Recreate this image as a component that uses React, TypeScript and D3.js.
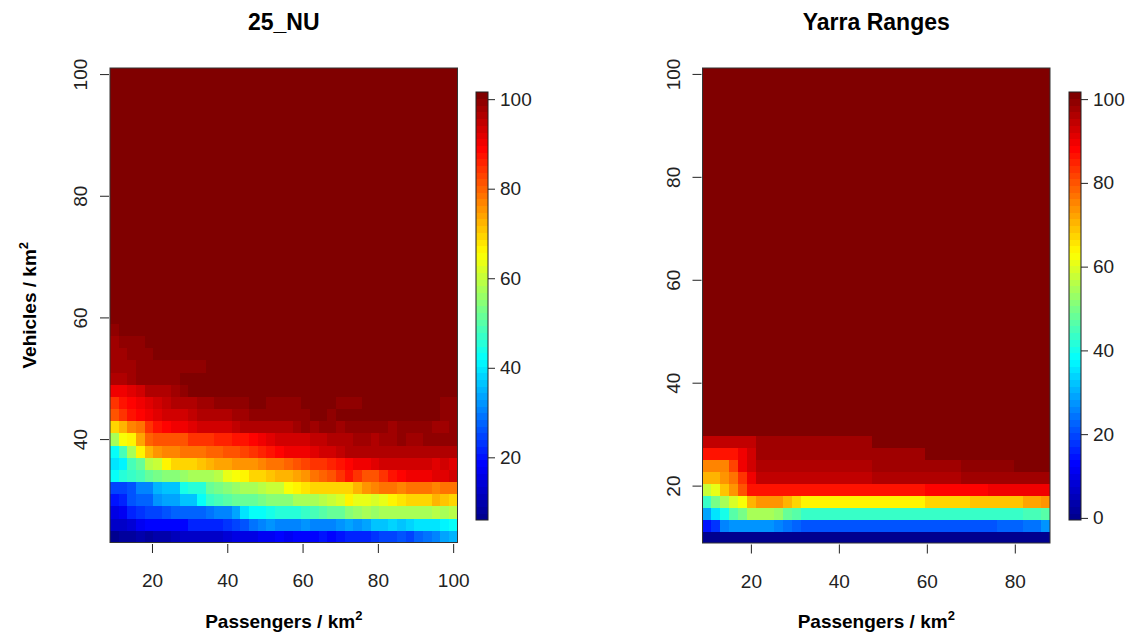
import { useEffect, useRef } from 'react';
import * as d3 from 'd3';

// saturated cells (the dark red upper area of both maps)
const T = 101;

// ---------- 25_NU ----------
const nuPassengers = [10, 12.3, 14.6, 16.9, 19.2, 21.5, 23.8, 26.2, 28.5, 30.8, 33.1, 35.4, 37.7, 40, 42.3, 44.6, 46.9, 49.2, 51.5, 53.8,
  56.2, 58.5, 60.8, 63.1, 65.4, 67.7, 70, 72.3, 74.6, 76.9, 79.2, 81.5, 83.8, 86.2, 88.5, 90.8, 93.1, 95.4, 97.7, 100];
const nuVehicles = [24, 26, 28, 30, 32, 34, 36, 38, 40, 42, 44, 46, 48, 50, 52, 54, 56, 58, 60, 62, 64, 66, 68, 70, 72, 74, 76,
  78, 80, 82, 84, 86, 88, 90, 92, 94, 96, 98, 100];
// rows from the lowest vehicle density upwards; every row above these is T
const nuRows = [
  [7, 8, 8, 9, 8, 9, 10, 11, 12, 12, 13, 12, 13, 14, 15, 16, 15, 17, 17, 18, 17, 19, 18, 19, 20, 19, 20, 21, 22, 21, 23, 24, 25, 26, 25, 27, 29, 31, 33, 35],
  [12, 13, 14, 17, 18, 18, 19, 18, 19, 21, 21, 22, 21, 23, 24, 26, 29, 31, 32, 31, 30, 31, 32, 31, 30, 31, 32, 33, 32, 34, 36, 37, 38, 37, 38, 39, 40, 40, 41, 42],
  [16, 17, 22, 23, 24, 24, 26, 27, 27, 28, 28, 29, 30, 31, 34, 40, 42, 43, 44, 45, 45, 46, 47, 48, 50, 51, 52, 55, 56, 57, 56, 57, 57, 58, 58, 57, 58, 59, 58, 59],
  [20, 22, 26, 27, 28, 32, 33, 34, 36, 37, 42, 47, 49, 50, 51, 52, 51, 53, 54, 55, 54, 57, 58, 58, 59, 60, 62, 66, 63, 63, 62, 64, 66, 68, 69, 69, 70, 72, 71, 70],
  [24, 25, 26, 30, 31, 35, 36, 37, 44, 45, 46, 51, 53, 55, 56, 57, 58, 59, 60, 61, 65, 66, 68, 69, 70, 69, 70, 70, 73, 75, 77, 78, 78, 77, 78, 79, 78, 77, 78, 79],
  [42, 46, 47, 48, 52, 53, 54, 55, 56, 57, 58, 58, 59, 64, 65, 66, 69, 70, 71, 72, 72, 74, 76, 78, 80, 82, 85, 87, 84, 81, 81, 84, 87, 89, 90, 90, 91, 92, 92, 93],
  [40, 41, 49, 51, 59, 61, 66, 69, 70, 70, 71, 73, 74, 74, 75, 75, 76, 77, 78, 79, 80, 82, 83, 84, 85, 86, 88, 89, 90, 91, 92, 93, 93, 94, 93, 93, 94, 92, 93, 92],
  [42, 48, 58, 66, 73, 76, 77, 77, 78, 78, 79, 80, 80, 81, 82, 83, 84, 86, 88, 89, 90, 91, 90, 92, 93, 94, 95, 96, 97, 96, 97, 96, 97, 96, 96, 97, 96, 97, 96, 97],
  [57, 65, 67, 74, 80, 81, 81, 82, 82, 84, 85, 85, 86, 86, 87, 88, 89, 90, 92, 93, 93, 94, 94, 95, 95, 96, 96, 97, 98, 98, 97, 98, 98, 99, 98, 98, 99, 100, 99, 100],
  [69, 72, 77, 79, 84, 88, 89, 90, 90, 92, 93, 93, 94, 94, 95, 96, 96, 97, 96, 97, 97, 98, 99, 98, 99, 99, 98, 99, 99, 100, 99, 99, 98, 99, 99, 100, 99, 98, 98, 99],
  [81, 84, 87, 89, 90, 92, 93, 93, 94, 95, 96, 96, 97, 97, 98, 98, 99, 99, 99, 100, 100, 99, 100, T, T, 100, T, T, T, T, T, T, T, T, T, T, T, T, 100, 99],
  [84, 87, 89, 90, 92, 93, 95, 96, 97, 97, 98, 98, 99, 99, 99, 100, T, T, 100, 99, 100, 100, T, T, T, T, 100, 99, 100, T, T, T, T, T, T, T, T, T, 100, 100],
  [90, 90, 92, 93, 96, 97, 97, 98, 100, T, T, T, T, T, T, T, T, T, T, T, T, T, T, T, T, T, T, T, T, T, T, T, T, T, T, T, T, T, T, T],
  [97, 97, 98, 99, 99, 99, 99, 99, T, T, T, T, T, T, T, T, T, T, T, T, T, T, T, T, T, T, T, T, T, T, T, T, T, T, T, T, T, T, T, T],
  [98, 98, 98, 99, 99, 99, 100, 100, 100, 100, 100, T, T, T, T, T, T, T, T, T, T, T, T, T, T, T, T, T, T, T, T, T, T, T, T, T, T, T, T, T],
  [98, 98, 99, 99, 99, T, T, T, T, T, T, T, T, T, T, T, T, T, T, T, T, T, T, T, T, T, T, T, T, T, T, T, T, T, T, T, T, T, T, T],
  [98, 99, 99, 99, T, T, T, T, T, T, T, T, T, T, T, T, T, T, T, T, T, T, T, T, T, T, T, T, T, T, T, T, T, T, T, T, T, T, T, T],
  [100, T, T, T, T, T, T, T, T, T, T, T, T, T, T, T, T, T, T, T, T, T, T, T, T, T, T, T, T, T, T, T, T, T, T, T, T, T, T, T],
];
const nuZRange = [6, 101.6];
const nuXTicks = [20, 40, 60, 80, 100];
const nuYTicks = [40, 60, 80, 100];
const nuBarTicks = [20, 40, 60, 80, 100];

// ---------- Yarra Ranges ----------
const yrPassengers = [10, 12, 14.1, 16.1, 18.1, 20.1, 22.2, 24.2, 26.2, 28.2, 30.3, 32.3, 34.3, 36.3, 38.4, 40.4, 42.4, 44.4, 46.5, 48.5,
  50.5, 52.6, 54.6, 56.6, 58.6, 60.7, 62.7, 64.7, 66.7, 68.8, 70.8, 72.8, 74.8, 76.9, 78.9, 80.9, 82.9, 85, 87];
const yrVehicles = [10, 12.3, 14.6, 16.9, 19.2, 21.5, 23.8, 26.2, 28.5, 30.8, 33.1, 35.4, 37.7, 40, 42.3, 44.6, 46.9, 49.2, 51.5, 53.8,
  56.2, 58.5, 60.8, 63.1, 65.4, 67.7, 70, 72.3, 74.6, 76.9, 79.2, 81.5, 83.8, 86.2, 88.5, 90.8, 93.1, 95.4, 97.7, 100];
const yrRows = [
  [0, 0, 0, 0, 0, 0, 0, 0, 0, 0, 0, 0, 0, 0, 0, 0, 0, 0, 0, 0, 0, 0, 0, 0, 0, 0, 0, 0, 0, 0, 0, 0, 0, 0, 0, 0, 0, 1, 1],
  [15, 18, 26, 27, 27, 28, 27, 27, 26, 25, 22, 21, 21, 21, 21, 21, 21, 21, 21, 21, 21, 21, 21, 21, 21, 21, 21, 21, 21, 21, 21, 21, 21, 22, 22, 22, 24, 24, 27],
  [29, 35, 41, 47, 50, 54, 55, 54, 53, 48, 47, 43, 43, 43, 43, 43, 43, 43, 43, 43, 43, 43, 43, 43, 43, 43, 43, 43, 43, 43, 43, 43, 43, 43, 44, 44, 45, 45, 46],
  [43, 50, 54, 60, 63, 70, 73, 74, 73, 70, 67, 64, 64, 64, 64, 64, 64, 64, 64, 64, 64, 64, 64, 64, 64, 67, 67, 67, 67, 67, 69, 69, 69, 69, 69, 69, 72, 72, 73],
  [57, 61, 69, 73, 80, 87, 87, 87, 87, 87, 87, 87, 86, 86, 86, 86, 86, 86, 86, 86, 86, 86, 86, 86, 86, 88, 88, 88, 88, 88, 88, 88, 89, 89, 89, 89, 89, 89, 89],
  [70, 70, 73, 77, 83, 90, 94, 94, 94, 94, 94, 94, 94, 94, 94, 94, 94, 94, 94, 95.5, 95.5, 95.5, 95.5, 95.5, 95.5, 95.5, 95.5, 95.5, 95.5, 97, 97, 97, 97, 97, 98.5, 98.5, 98.5, 98.5, 98.5],
  [76, 76, 76, 82, 89, 93, 95.5, 95.5, 95.5, 95.5, 95.5, 95.5, 95.5, 95.5, 95.5, 95.5, 95.5, 95.5, 95.5, 97, 97, 97, 97, 97, 97, 98.5, 98.5, 98.5, 98.5, 100, 100, 100, 100, 100, 100, T, T, T, T],
  [86, 86, 86, 86, 89, 93, 97, 97, 97, 97, 97, 97, 97, 97, 97, 97, 97, 97, 97, 97, 98.5, 98.5, 98.5, 98.5, 98.5, T, T, T, T, T, T, T, T, T, T, T, T, T, T],
  [95, 95, 95, 95, 95, 95, 98.5, 98.5, 98.5, 98.5, 98.5, 98.5, 98.5, 98.5, 98.5, 98.5, 98.5, 98.5, 98.5, T, T, T, T, T, T, T, T, T, T, T, T, T, T, T, T, T, T, T, T],
];
const yrZRange = [-0.5, 101.7];
const yrXTicks = [20, 40, 60, 80];
const yrYTicks = [20, 40, 60, 80, 100];
const yrBarTicks = [0, 20, 40, 60, 80, 100];

// fields::tim.colors style palette, 64 levels
const jet = d3.scaleLinear<string>()
  .domain([0, 0.125, 0.375, 0.625, 0.875, 1])
  .range(['#00008f', '#0000ff', '#00ffff', '#ffff00', '#ff0000', '#800000']);
const palette = d3.range(64).map(i => jet(i / 63));

const FONT = "'Liberation Sans', Arial, Helvetica, sans-serif";

// cell boundaries halfway between the grid points
function edges(v: number[]) {
  const out = [v[0] - (v[1] - v[0]) / 2];
  for (let i = 1; i < v.length; i++) out.push((v[i - 1] + v[i]) / 2);
  out.push(v[v.length - 1] + (v[v.length - 1] - v[v.length - 2]) / 2);
  return out;
}

type Box = { left: number; right: number; top: number; bottom: number };

function Panel({ title, xs, ys, rows, zRange, xTicks, yTicks, barTicks, plot, bar, yTitle }: {
  title: string; xs: number[]; ys: number[]; rows: number[][]; zRange: number[];
  xTicks: number[]; yTicks: number[]; barTicks: number[]; plot: Box; bar: Box; yTitle: boolean;
}) {
  const xRef = useRef<SVGGElement>(null);
  const yRef = useRef<SVGGElement>(null);
  const zRef = useRef<SVGGElement>(null);

  const xe = edges(xs);
  const ye = edges(ys);
  const x = d3.scaleLinear().domain([xe[0], xe[xe.length - 1]]).range([plot.left, plot.right]);
  const y = d3.scaleLinear().domain([ye[0], ye[ye.length - 1]]).range([plot.bottom, plot.top]);
  const color = d3.scaleQuantize<string>().domain(zRange as [number, number]).range(palette);
  const z = d3.scaleLinear().domain(zRange).range([bar.bottom, bar.top]);
  const grid = ys.map((_, j) => rows[j] ?? xs.map(() => T));
  const levels = d3.range(65).map(i => zRange[0] + (i * (zRange[1] - zRange[0])) / 64);

  useEffect(() => {
    const gx = select(xRef.current)
      .call(d3.axisBottom(x).tickValues(xTicks).tickSize(9).tickPadding(21).tickFormat(d3.format('d')));
    gx.select('.domain').remove();
    gx.attr('font-size', 19).attr('font-family', FONT);

    const gy = select(yRef.current)
      .call(d3.axisLeft(y).tickValues(yTicks).tickSize(9).tickFormat(d3.format('d')));
    gy.select('.domain').remove();
    gy.attr('font-size', 19).attr('font-family', FONT);
    gy.selectAll('text')
      .attr('x', 0)
      .attr('dy', null)
      .attr('text-anchor', 'middle')
      .attr('transform', 'translate(-22,0) rotate(-90)');

    const gz = select(zRef.current)
      .call(d3.axisRight(z).tickValues(barTicks).tickSize(7).tickPadding(5).tickFormat(d3.format('d')));
    gz.select('.domain').remove();
    gz.attr('font-size', 19).attr('font-family', FONT);
  });

  const cx = (plot.left + plot.right) / 2;
  const cy = (plot.top + plot.bottom) / 2;

  return (
    <g>
      <text x={cx} y={30} textAnchor="middle" fontFamily={FONT} fontWeight="bold" fontSize={23}>{title}</text>
      <g shapeRendering="crispEdges">
        {grid.map((row, j) => row.map((v, i) => (
          <rect
            key={`${i}-${j}`}
            x={x(xe[i])}
            y={y(ye[j + 1])}
            width={x(xe[i + 1]) - x(xe[i]) + 0.4}
            height={y(ye[j]) - y(ye[j + 1]) + 0.4}
            fill={color(v)}
          />
        )))}
      </g>
      <rect x={plot.left} y={plot.top} width={plot.right - plot.left} height={plot.bottom - plot.top}
        fill="none" stroke="#333" strokeWidth={1} />
      <g ref={xRef} transform={`translate(0,${plot.bottom + 1.5})`} style={{ color: '#222' }} />
      <g ref={yRef} transform={`translate(${plot.left - 1},0)`} style={{ color: '#222' }} />
      <text x={cx} y={628} textAnchor="middle" fontFamily={FONT} fontWeight="bold" fontSize={19}>
        Passengers / km<tspan dy={-8} fontSize={13}>2</tspan>
      </text>
      {yTitle && (
        <text transform={`translate(36,${cy}) rotate(-90)`} textAnchor="middle" fontFamily={FONT} fontWeight="bold" fontSize={19}>
          Vehicles / km<tspan dy={-8} fontSize={13}>2</tspan>
        </text>
      )}
      <g shapeRendering="crispEdges">
        {levels.slice(0, 64).map((lv, k) => (
          <rect key={k} x={bar.left} width={bar.right - bar.left}
            y={z(levels[k + 1])} height={z(lv) - z(levels[k + 1]) + 0.4} fill={palette[k]} />
        ))}
      </g>
      <rect x={bar.left} y={bar.top} width={bar.right - bar.left} height={bar.bottom - bar.top}
        fill="none" stroke="#222" strokeWidth={1} />
      <g ref={zRef} transform={`translate(${bar.right},0)`} style={{ color: '#222' }} />
    </g>
  );
}

const select = d3.select;

export default function App() {
  return (
    <svg width={1148} height={641} style={{ position: 'absolute', left: 0, top: 0, background: '#fff' }}>
      <rect width={1148} height={641} fill="#fff" />
      <Panel
        title="25_NU"
        xs={nuPassengers}
        ys={nuVehicles}
        rows={nuRows}
        zRange={nuZRange}
        xTicks={nuXTicks}
        yTicks={nuYTicks}
        barTicks={nuBarTicks}
        plot={{ left: 110, right: 457.5, top: 68, bottom: 542.5 }}
        bar={{ left: 476, right: 488, top: 92, bottom: 520 }}
        yTitle
      />
      <Panel
        title="Yarra Ranges"
        xs={yrPassengers}
        ys={yrVehicles}
        rows={yrRows}
        zRange={yrZRange}
        xTicks={yrXTicks}
        yTicks={yrYTicks}
        barTicks={yrBarTicks}
        plot={{ left: 702.5, right: 1050, top: 68, bottom: 543 }}
        bar={{ left: 1069, right: 1081, top: 92, bottom: 520 }}
        yTitle={false}
      />
    </svg>
  );
}
